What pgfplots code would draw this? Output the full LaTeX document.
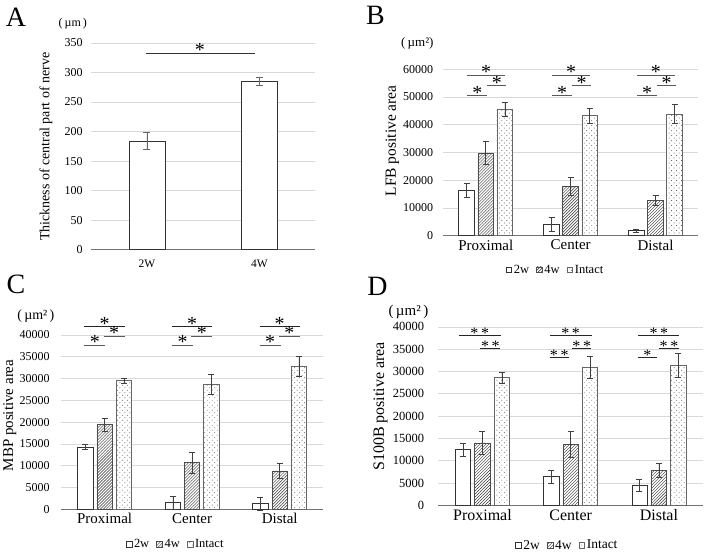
\documentclass[border=0pt]{standalone}
\usepackage{fontspec}
\setmainfont{Liberation Serif}
\usepackage{pgfplots}
\pgfplotsset{compat=1.18}
\usetikzlibrary{patterns,patterns.meta}

\pgfdeclarepattern{
  name=sparsedots, type=uncolored,
  bottom left={\pgfpoint{-0.5pt}{-0.5pt}},
  top right={\pgfpoint{4.5pt}{4.5pt}},
  tile size={\pgfpoint{5pt}{5pt}},
  code={
    \pgfpathcircle{\pgfpoint{0pt}{0pt}}{0.45pt}
    \pgfpathcircle{\pgfpoint{2.5pt}{2.5pt}}{0.45pt}
    \pgfusepath{fill}
  }
}

\newcommand{\fs}[1]{\fontsize{#1}{#1}\selectfont}
\tikzset{sigstar/.style={font=\fs{20}, anchor=base, inner sep=0pt, yshift=-3.5pt},
         dstar/.style={font=\fs{16}, anchor=base, inner sep=0pt, yshift=-2.5pt}}

\pgfplotsset{
  panel/.style={
    scale only axis,
    axis lines*=left,
    y axis line style={draw=none},
    x axis line style={draw=black!55, line width=0.8pt},
    major tick length=0pt,
    ymajorgrids, grid style={black!15, line width=0.7pt},
    enlargelimits=false, ymin=0,
    clip=false, ybar,
    scaled y ticks=false,
    /pgf/number format/assume math mode=true,
    /pgf/number format/1000 sep={},
    yticklabel style={font=\fs{12}, inner xsep=0pt},
    xticklabel style={inner ysep=0pt, yshift=-4pt},
    xtick={0,1,2}, xticklabels={Proximal,Center,Distal},
    xmin=-0.5, xmax=2.5,
    legend style={draw=none, fill=none, legend columns=-1,
      /tikz/every even column/.append style={column sep=5pt}, inner sep=0pt},
    legend image code/.code={\draw[##1, line width=0.5pt] (0pt,-2.9pt) rectangle (5.8pt,2.9pt);},
  },
  s2w/.style={fill=white, draw=black!80, line width=0.7pt},
  s4w/.style={fill=white, draw=black!70, line width=0.7pt,
    postaction={pattern=north east lines, pattern color=black!80}},
  sint/.style={fill=white, draw=black!60, line width=0.7pt,
    postaction={pattern=sparsedots, pattern color=black!75}},
  eb/.style={error bars/y dir=both, error bars/y explicit,
    error bars/error bar style={black!75, line width=0.6pt},
    error bars/error mark options={rotate=90, mark size=3pt, black!75, line width=0.6pt}},
  sig/.style={sharp plot, mark=none, draw=black!65, line width=0.8pt, forget plot},
}

\begin{document}
\begin{tikzpicture}
\path (0pt,0pt) rectangle (705pt,553pt);

%%%%%%%%%%%%%%%% Panel A
\node[font=\fs{28}] at (15pt,536pt) {A};
\node[font=\fs{12}] at (72pt,529pt) {(\,µm\,)};
\node[font=\fs{14}, rotate=90] at (45pt,406pt) {Thickness of central part of nerve};
\begin{axis}[panel, at={(90pt,303pt)}, anchor=south west, width=225pt, height=207pt,
  xmin=-0.5, xmax=1.5, xtick={0,1}, xticklabels={2W,4W},
  ymax=350, ytick={0,50,...,350}, bar width=0.32,
  yticklabel style={xshift=-8pt},
  xticklabel style={font=\fs{11.5}, yshift=-6pt}]
\addplot[s2w, eb, bar shift=0, error bars/error mark options={rotate=90, mark size=3.5pt, black!60, line width=0.6pt},
  error bars/error bar style={black!60, line width=0.6pt}]
  coordinates {(0,184) +- (0,14) (1,285) +- (0,7)};
\addplot[sig, draw=black!80] coordinates {(-0.01,333) (0.96,333)};
\node[sigstar] at (axis cs:0.47,333) {*};
\end{axis}

%%%%%%%%%%%%%%%% Panel B
\node[font=\fs{28}] at (375pt,538pt) {B};
\node[font=\fs{13}] at (417pt,510pt) {(\,µm²)};
\node[font=\fs{15.5}, rotate=90] at (392pt,412pt) {LFB positive area};
\begin{axis}[panel, at={(443pt,317pt)}, anchor=south west, width=255pt, height=166.7pt,
  ymax=60000, ytick={0,10000,...,60000}, bar width=0.186,
  yticklabel style={xshift=-10pt},
  xticklabel style={font=\fs{15}},
  legend style={at={(0.44,-0.205)}, anchor=center, font=\fs{12.5}}]
\addplot[s2w, eb, bar shift=-0.225] coordinates {(0,16300) +- (0,2600) (1,4200) +- (0,2500) (2,1800) +- (0,500)};
\addplot[s4w, eb, bar shift=0] coordinates {(0,29800) +- (0,4100) (1,17800) +- (0,3300) (2,12600) +- (0,1800)};
\addplot[sint, eb, bar shift=0.225] coordinates {(0,45600) +- (0,2400) (1,43200) +- (0,2600) (2,43900) +- (0,3400)};
\legend{2w,4w,Intact}
\addplot[sig] coordinates {(-0.22,57800) (0.23,57800)};
\addplot[sig] coordinates {(0.02,54100) (0.24,54100)};
\addplot[sig] coordinates {(-0.22,50500) (0.02,50500)};
\addplot[sig] coordinates {(0.78,57800) (1.23,57800)};
\addplot[sig] coordinates {(1.02,54100) (1.24,54100)};
\addplot[sig] coordinates {(0.78,50500) (1.02,50500)};
\addplot[sig] coordinates {(1.78,57800) (2.23,57800)};
\addplot[sig] coordinates {(2.02,54100) (2.24,54100)};
\addplot[sig] coordinates {(1.78,50500) (2.02,50500)};
\pgfplotsinvokeforeach{0,1,2}{
  \node[sigstar] at (axis cs:#1+0.005,57800) {*};
  \node[sigstar] at (axis cs:#1+0.13,54100) {*};
  \node[sigstar] at (axis cs:#1-0.10,50500) {*};
}
\end{axis}

%%%%%%%%%%%%%%%% Panel C
\node[font=\fs{28}] at (15pt,268pt) {C};
\node[font=\fs{14}] at (35pt,236pt) {(\,µm²\,)};
\node[font=\fs{15}, rotate=90] at (9pt,137pt) {MBP positive area};
\begin{axis}[panel, at={(60pt,43pt)}, anchor=south west, width=263pt, height=174.7pt,
  ymax=40000, ytick={0,5000,...,40000}, bar width=0.174,
  yticklabel style={xshift=-11pt},
  xticklabel style={font=\fs{15}},
  legend style={at={(0.437,-0.2)}, anchor=center, font=\fs{12.5}}]
\addplot[s2w, eb, bar shift=-0.22] coordinates {(0,14300) +- (0,600) (1,1500) +- (0,1600) (2,1300) +- (0,1500)};
\addplot[s4w, eb, bar shift=0] coordinates {(0,19400) +- (0,1500) (1,10700) +- (0,2350) (2,8800) +- (0,1700)};
\addplot[sint, eb, bar shift=0.22] coordinates {(0,29500) +- (0,500) (1,28600) +- (0,2300) (2,32700) +- (0,2300)};
\legend{2w,4w,Intact}
\addplot[sig, draw=black!85] coordinates {(-0.23,41900) (0.23,41900)};
\addplot[sig] coordinates {(-0.01,39650) (0.23,39650)};
\addplot[sig] coordinates {(-0.23,37600) (0.01,37600)};
\addplot[sig, draw=black!85] coordinates {(0.77,41900) (1.23,41900)};
\addplot[sig] coordinates {(0.99,39650) (1.23,39650)};
\addplot[sig] coordinates {(0.77,37600) (1.01,37600)};
\addplot[sig, draw=black!85] coordinates {(1.77,41900) (2.23,41900)};
\addplot[sig] coordinates {(1.99,39650) (2.23,39650)};
\addplot[sig] coordinates {(1.77,37600) (2.01,37600)};
\pgfplotsinvokeforeach{0,1,2}{
  \node[sigstar] at (axis cs:#1,41900) {*};
  \node[sigstar] at (axis cs:#1+0.11,39650) {*};
  \node[sigstar] at (axis cs:#1-0.11,37600) {*};
}
\end{axis}

%%%%%%%%%%%%%%%% Panel D
\node[font=\fs{28}] at (377pt,266pt) {D};
\node[font=\fs{15}] at (408pt,241pt) {(\,µm²\,)};
\node[font=\fs{16}, rotate=90] at (380pt,146pt) {S100B positive area};
\begin{axis}[panel, at={(438pt,47pt)}, anchor=south west, width=265pt, height=178.7pt,
  ymax=40000, ytick={0,5000,...,40000}, bar width=0.173,
  yticklabel style={font=\fs{12.5}, xshift=-14pt},
  xticklabel style={font=\fs{16}},
  legend style={at={(0.487,-0.224)}, anchor=center, font=\fs{13.5}}]
\addplot[s2w, eb, bar shift=-0.22] coordinates {(0,12500) +- (0,1500) (1,6400) +- (0,1400) (2,4500) +- (0,1300)};
\addplot[s4w, eb, bar shift=0] coordinates {(0,14000) +- (0,2600) (1,13700) +- (0,2900) (2,7900) +- (0,1600)};
\addplot[sint, eb, bar shift=0.22] coordinates {(0,28600) +- (0,1250) (1,31000) +- (0,2500) (2,31300) +- (0,2700)};
\legend{2w,4w,Intact}
\addplot[sig, draw=black!85] coordinates {(-0.27,38050) (0.21,38050)};
\addplot[sig, draw=black!85] coordinates {(-0.03,35140) (0.20,35140)};
\addplot[sig, draw=black!85] coordinates {(0.76,38050) (1.24,38050)};
\addplot[sig, draw=black!85] coordinates {(1.02,35140) (1.23,35140)};
\addplot[sig, draw=black!85] coordinates {(0.76,33130) (0.98,33130)};
\addplot[sig, draw=black!85] coordinates {(1.76,38050) (2.23,38050)};
\addplot[sig, draw=black!85] coordinates {(2.00,35140) (2.23,35140)};
\addplot[sig, draw=black!85] coordinates {(1.76,33130) (1.98,33130)};
\node[dstar] at (axis cs:-0.03,38050) {*\,*};
\node[dstar] at (axis cs:0.09,35140) {*\,*};
\node[dstar] at (axis cs:1.0,38050) {*\,*};
\node[dstar] at (axis cs:1.125,35140) {*\,*};
\node[dstar] at (axis cs:0.87,33130) {*\,*};
\node[dstar] at (axis cs:2.0,38050) {*\,*};
\node[dstar] at (axis cs:2.115,35140) {*\,*};
\node[dstar] at (axis cs:1.87,33130) {*};
\end{axis}
\end{tikzpicture}
\end{document}
